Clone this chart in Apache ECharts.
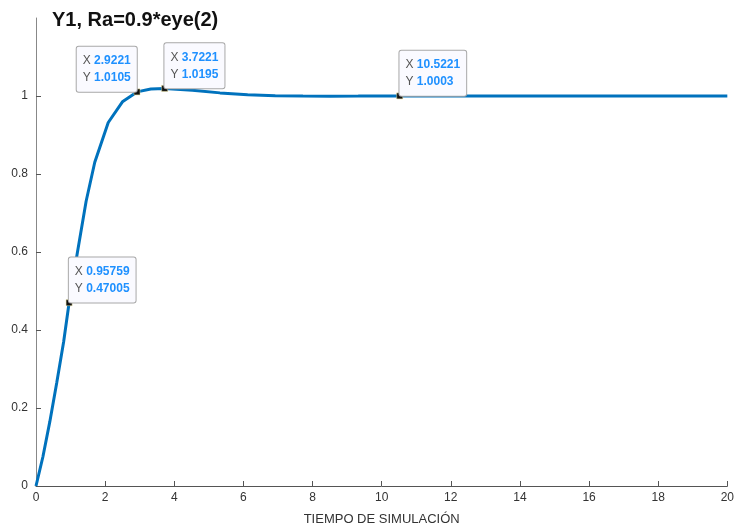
<!DOCTYPE html>
<html>
<head>
<meta charset="utf-8">
<script src="https://cdn.jsdelivr.net/npm/echarts@6/dist/echarts.min.js"></script>
<style>html,body{margin:0;padding:0;background:#fff}#c{width:737px;height:531px}</style>
</head>
<body>
<div id="c"></div>
<script>
// time samples (s) and response values
const tValues = [0, 0.2, 0.4, 0.6, 0.8, 0.95759, 1.2, 1.45, 1.7, 2.09, 2.5, 2.9221, 3.3221, 3.7221, 4.5221, 5.3221, 6.1221, 6.9221, 7.7221, 8.5221, 9.3221, 10.1221, 10.5221, 12, 14, 16, 18, 20];
const yValues = [0, 0.075, 0.165, 0.265, 0.37, 0.47005, 0.6, 0.73, 0.83, 0.932, 0.985, 1.0105, 1.018, 1.0195, 1.015, 1.008, 1.003, 1.0005, 1.0, 0.9996, 0.9998, 1.0002, 1.0003, 1.0001, 1.0, 1.0, 1.0, 1.0];
// data tips
const tipX = [0.95759, 2.9221, 3.7221, 10.5221];
const tipY = [0.47005, 1.0105, 1.0195, 1.0003];
const tipXText = ['0.95759', '2.9221', '3.7221', '10.5221'];
const tipYText = ['0.47005', '1.0105', '1.0195', '1.0003'];
const tipSide = ['right', 'left', 'right', 'right'];
const xTicks = [0, 2, 4, 6, 8, 10, 12, 14, 16, 18, 20];
const yTicks = [0, 0.2, 0.4, 0.6, 0.8, 1];

const chart = echarts.init(document.getElementById('c'), null, {renderer: 'canvas'});
const seriesData = tValues.map((t, i) => [t, yValues[i]]);
const markData = tipX.map((x, i) => ({
  coord: [x, tipY[i]],
  label: {
    show: true,
    position: [3, 3],
    align: tipSide[i] === 'right' ? 'left' : 'right',
    verticalAlign: 'bottom',
    formatter: '{k|X} {v|' + tipXText[i] + '}\n{k|Y} {v|' + tipYText[i] + '}',
    backgroundColor: '#fafaff',
    borderColor: '#a8a8a8',
    borderWidth: 1,
    borderRadius: 2,
    padding: [6, 6, 5, 6],
    rich: {
      k: {fontFamily: 'Liberation Sans, Arial', fontSize: 12, color: '#555', lineHeight: 17},
      v: {fontFamily: 'Liberation Sans, Arial', fontSize: 12, color: '#1e90ff', fontWeight: 'bold', lineHeight: 17}
    }
  }
}));

chart.setOption({
  animation: false,
  title: {
    text: 'Y1, Ra=0.9*eye(2)',
    left: 47, top: 5,
    textStyle: {fontFamily: 'Liberation Sans, Arial', fontSize: 20, fontWeight: 'bold', color: '#111'}
  },
  grid: {left: 36, right: 8, top: 18, bottom: 44},
  xAxis: {
    type: 'value', min: 0, max: 20, interval: 2,
    name: 'TIEMPO DE SIMULACIÓN', nameLocation: 'middle', nameGap: 27,
    nameTextStyle: {fontFamily: 'Liberation Sans Narrow, Liberation Sans, Arial', fontSize: 13, color: '#333'},
    axisLine: {show: true, lineStyle: {color: '#555', width: 1}},
    axisTick: {show: true, inside: true, length: 5, lineStyle: {color: '#555'}},
    axisLabel: {fontFamily: 'Liberation Sans Narrow, Liberation Sans, Arial', fontSize: 12, color: '#333', margin: 6},
    splitLine: {show: false}
  },
  yAxis: {
    type: 'value', min: 0, max: 1.2, interval: 0.2,
    axisLine: {show: true, lineStyle: {color: '#888', width: 1}},
    axisTick: {show: true, inside: true, length: 5, lineStyle: {color: '#555'}, customValues: yTicks},
    axisLabel: {
      fontFamily: 'Liberation Sans, Arial', fontSize: 12, color: '#333', margin: 8,
      customValues: yTicks,
      formatter: v => String(Math.round(v * 10) / 10)
    },
    splitLine: {show: false}
  },
  series: [{
    type: 'line',
    data: seriesData,
    showSymbol: false,
    lineStyle: {color: '#0072BD', width: 3},
    itemStyle: {color: '#0072BD'},
    z: 2,
    markPoint: {
      symbol: 'rect',
      symbolSize: 6,
      itemStyle: {color: '#111', borderColor: '#e0d890', borderWidth: 0.5},
      data: markData
    }
  }]
});
</script>
</body>
</html>
